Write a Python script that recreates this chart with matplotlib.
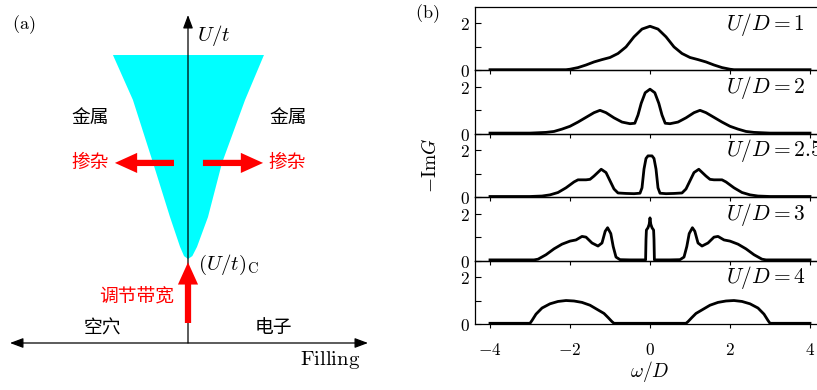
import matplotlib
matplotlib.use("Agg")
import matplotlib.pyplot as plt
from matplotlib.patches import Polygon, FancyArrowPatch

plt.rcParams['font.family'] = ['Noto Sans CJK SC', 'DejaVu Sans']
plt.rcParams['mathtext.fontset'] = 'cm'

# ---------------- panel (a): schematic phase diagram ----------------
# cone of the metallic region (filling on x, U/t on y, normalised units)
cone_left_x = [-0.417, -0.306, -0.194, -0.100, -0.044, -0.022, 0.0]
cone_left_y = [0.878, 0.741, 0.549, 0.384, 0.293, 0.265, 0.256]
cone_right_x = [0.0, 0.024, 0.050, 0.111, 0.189, 0.317, 0.422]
cone_right_y = [0.256, 0.265, 0.293, 0.384, 0.549, 0.741, 0.878]

# ---------------- panel (b): spectral functions ----------------
u_labels = ['1', '2', '2.5', '3', '4']

omega_u1 = [-4.0, -2.1, -2.0, -1.8, -1.6, -1.4, -1.2, -1.0, -0.8, -0.6, -0.4, -0.2, 0.0,
            0.2, 0.4, 0.6, 0.8, 1.0, 1.2, 1.4, 1.6, 1.8, 2.0, 2.1, 4.0]
g_u1 = [0.03, 0.03, 0.05, 0.12, 0.23, 0.36, 0.46, 0.55, 0.72, 1.0, 1.43, 1.76, 1.88,
        1.76, 1.43, 1.0, 0.72, 0.55, 0.46, 0.36, 0.23, 0.12, 0.05, 0.03, 0.03]

omega_u2 = [-4.0, -3.0, -2.6, -2.4, -2.2, -2.0, -1.8, -1.6, -1.4, -1.25, -1.1, -0.9, -0.7,
            -0.5, -0.38, -0.3, -0.22, -0.12, 0.0, 0.12, 0.22, 0.3, 0.38, 0.5, 0.7, 0.9,
            1.1, 1.25, 1.4, 1.6, 1.8, 2.0, 2.2, 2.4, 2.6, 3.0, 4.0]
g_u2 = [0.03, 0.03, 0.06, 0.1, 0.2, 0.32, 0.5, 0.7, 0.9, 1.0, 0.9, 0.68, 0.5,
        0.43, 0.45, 0.8, 1.3, 1.75, 1.9, 1.75, 1.3, 0.8, 0.45, 0.43, 0.5, 0.68,
        0.9, 1.0, 0.9, 0.7, 0.5, 0.32, 0.2, 0.1, 0.06, 0.03, 0.03]

omega_u25 = [-4.0, -3.0, -2.7, -2.5, -2.3, -2.1, -1.9, -1.8, -1.6, -1.5, -1.4, -1.22, -1.1,
             -1.0, -0.9, -0.8, -0.6, -0.4, -0.25, -0.2, -0.15, -0.1, -0.05, 0.0,
             0.05, 0.1, 0.15, 0.2, 0.25, 0.4, 0.6, 0.8, 0.9, 1.0, 1.1, 1.22, 1.4, 1.5,
             1.6, 1.8, 1.9, 2.1, 2.3, 2.5, 2.7, 3.0, 4.0]
g_u25 = [0.03, 0.03, 0.05, 0.1, 0.2, 0.4, 0.65, 0.74, 0.74, 0.76, 0.9, 1.19, 1.05,
         0.7, 0.35, 0.18, 0.16, 0.15, 0.17, 0.4, 1.2, 1.65, 1.76, 1.76,
         1.76, 1.65, 1.2, 0.4, 0.17, 0.15, 0.16, 0.18, 0.35, 0.7, 1.05, 1.19, 0.9, 0.76,
         0.74, 0.74, 0.65, 0.4, 0.2, 0.1, 0.05, 0.03, 0.03]

omega_u3 = [-4.0, -2.9, -2.8, -2.6, -2.4, -2.2, -2.0, -1.85, -1.7, -1.6, -1.45, -1.3, -1.2,
            -1.12, -1.06, -0.98, -0.92, -0.85, -0.75, -0.5, -0.11, -0.1, -0.09, -0.05,
            -0.02, 0.0, 0.02, 0.05, 0.09, 0.1, 0.11, 0.5, 0.75, 0.85, 0.92, 0.98, 1.06,
            1.12, 1.2, 1.3, 1.45, 1.6, 1.7, 1.85, 2.0, 2.2, 2.4, 2.6, 2.8, 2.9, 4.0]
g_u3 = [0.03, 0.03, 0.06, 0.25, 0.5, 0.7, 0.83, 0.88, 1.03, 1.0, 0.75, 0.62, 0.75,
        1.25, 1.4, 1.15, 0.6, 0.15, 0.04, 0.03, 0.03, 0.9, 1.3, 1.4,
        1.55, 1.82, 1.55, 1.4, 1.3, 0.9, 0.03, 0.03, 0.04, 0.15, 0.6, 1.15, 1.4,
        1.25, 0.75, 0.62, 0.75, 1.0, 1.03, 0.88, 0.83, 0.7, 0.5, 0.25, 0.06, 0.03, 0.03]

omega_u4 = [-4.0, -3.0, -2.95, -2.85, -2.7, -2.5, -2.3, -2.1, -1.9, -1.7, -1.5, -1.3,
            -1.15, -1.05, -0.95, -0.9, 0.9, 0.95, 1.05, 1.15, 1.3, 1.5, 1.7, 1.9, 2.1,
            2.3, 2.5, 2.7, 2.85, 2.95, 3.0, 4.0]
g_u4 = [0.03, 0.03, 0.15, 0.42, 0.68, 0.86, 0.96, 1.0, 0.98, 0.92, 0.8, 0.6,
        0.45, 0.28, 0.1, 0.03, 0.03, 0.1, 0.28, 0.45, 0.6, 0.8, 0.92, 0.98, 1.0,
        0.96, 0.86, 0.68, 0.42, 0.15, 0.03, 0.03]

series_omega = [omega_u1, omega_u2, omega_u25, omega_u3, omega_u4]
series_g = [g_u1, g_u2, g_u25, g_u3, g_u4]

x_ticks = [-4, -2, 0, 2, 4]
y_ticks = [0, 1, 2]

W, H = 817, 390
fig = plt.figure(figsize=(W / 100, H / 100), dpi=100)

# ---- panel (a) ----
ax_a = fig.add_axes([0, 0, 400 / W, 1])
ax_a.set_xlim(-188 / 180, (400 - 188) / 180)
ax_a.set_ylim((343 - 390) / 328, 343 / 328)
ax_a.axis('off')

cone_x = cone_left_x + cone_right_x
cone_y = cone_left_y + cone_right_y
ax_a.add_patch(Polygon(list(zip(cone_x, cone_y)), closed=True,
                       facecolor='#00FFFF', edgecolor='none', zorder=1))

axis_kw = dict(arrowstyle='-|>,head_length=0.8,head_width=0.3', mutation_scale=10,
               color='black', lw=0.9, shrinkA=0, shrinkB=0, zorder=3)
ax_a.add_patch(FancyArrowPatch((0, 0), (0, 1.0), **axis_kw))
ax_a.add_patch(FancyArrowPatch((-0.989, 0), (1.0, 0),
                               arrowstyle='<|-|>,head_length=0.8,head_width=0.3',
                               mutation_scale=10, color='black', lw=0.9,
                               shrinkA=0, shrinkB=0, zorder=3))

red_kw = dict(arrowstyle='simple,head_length=1.6,head_width=1.45,tail_width=0.45',
              mutation_scale=10, color='#FF0000', lw=0, shrinkA=0, shrinkB=0, zorder=4)
ax_a.add_patch(FancyArrowPatch((0, 0.061), (0, 0.246), **red_kw))
ax_a.add_patch(FancyArrowPatch((-0.078, 0.549), (-0.406, 0.549), **red_kw))
ax_a.add_patch(FancyArrowPatch((0.083, 0.549), (0.417, 0.549), **red_kw))

cjk = 13.5
ax_a.text(-0.978, 0.970, r'$\mathrm{(a)}$', fontsize=13, ha='left', va='center')
ax_a.text(0.05, 0.939, r'$U/t$', fontsize=15, ha='left', va='center')
ax_a.text(0.056, 0.238, r'$(U/t)_{\mathrm{C}}$', fontsize=15, ha='left', va='center')
ax_a.text(-0.544, 0.689, '金属', fontsize=cjk, ha='center', va='center')
ax_a.text(0.556, 0.689, '金属', fontsize=cjk, ha='center', va='center')
ax_a.text(-0.544, 0.549, '掺杂', fontsize=cjk, ha='center', va='center', color='#FF0000')
ax_a.text(0.55, 0.549, '掺杂', fontsize=cjk, ha='center', va='center', color='#FF0000')
ax_a.text(-0.283, 0.143, '调节带宽', fontsize=cjk, ha='center', va='center', color='#FF0000')
ax_a.text(-0.478, 0.046, '空穴', fontsize=cjk, ha='center', va='center')
ax_a.text(0.472, 0.046, '电子', fontsize=cjk, ha='center', va='center')
ax_a.text(0.789, -0.052, r'$\mathrm{Filling}$', fontsize=15, ha='center', va='center')

# ---- panel (b) ----
left = 475 / W
width = (825 - 475) / W
bottom = (H - 324) / H
ph = 63.4 / H
for i, (om, g, lab) in enumerate(zip(series_omega, series_g, u_labels)):
    b = bottom + (4 - i) * ph
    ax = fig.add_axes([left, b, width, ph])
    ax.set_facecolor('none')
    ax.plot(om, g, color='black', lw=2.0, solid_joinstyle='round')
    ax.set_xlim(-4.375, 4.375)
    ax.set_ylim(0, 2.70)
    ax.set_xticks(x_ticks)
    ax.set_yticks(y_ticks)
    ax.set_yticklabels([r'$0$', '', r'$2$'])
    if i == 4:
        ax.set_xticklabels([r'$%d$' % v for v in x_ticks])
    else:
        ax.set_xticklabels([])
    ax.tick_params(axis='x', direction='out', length=3, width=0.8, pad=9, labelsize=12.5)
    ax.tick_params(axis='y', direction='in', length=4.5, width=0.8, pad=4, labelsize=12.5)
    for sp in ax.spines.values():
        sp.set_linewidth(0.9)
    ax.text(0.717, 0.73, r'$U/D=%s$' % lab, transform=ax.transAxes,
            fontsize=15.5, ha='left', va='center')

fig.text(427 / W, 1 - 14 / H, r'$\mathrm{(b)}$', fontsize=13, ha='center', va='center')
fig.text(430 / W, 1 - 165.5 / H, r'$-\mathrm{Im}G$', fontsize=14, rotation=90,
         ha='center', va='center')
fig.text(650 / W, 1 - 372 / H, r'$\omega/D$', fontsize=14, ha='center', va='center')

fig.savefig('out.png', dpi=100)
